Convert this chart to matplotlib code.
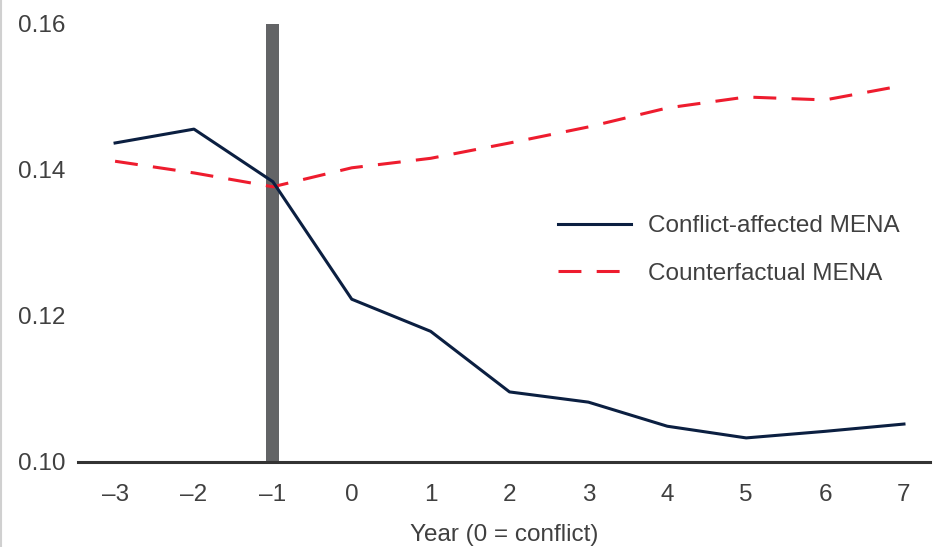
import matplotlib
matplotlib.use("Agg")
import matplotlib.pyplot as plt

plt.rcParams["font.family"] = ["Liberation Sans", "DejaVu Sans"]

years = [-3, -2, -1, 0, 1, 2, 3, 4, 5, 6, 7]
year_labels = ["\u20133", "\u20132", "\u20131", "0", "1", "2", "3", "4", "5", "6", "7"]
conflict = [0.1437, 0.1456, 0.1384, 0.1223, 0.1179, 0.1096, 0.1082, 0.1049, 0.1033, 0.1042, 0.1052]
counterfactual = [0.1412, 0.1396, 0.1377, 0.1403, 0.1416, 0.1437, 0.1459, 0.1485, 0.1500, 0.1496, 0.1516]
conflict_year = -1
y_ticks = [0.10, 0.12, 0.14, 0.16]

text_col = "#404040"
fs = 17.5

fig = plt.figure(figsize=(9.34, 5.47), dpi=100)
ax = fig.add_axes([78 / 934, 1 - 462 / 547, 852 / 934, 438 / 547])

# vertical marker for the conflict year
ax.bar([conflict_year], [y_ticks[-1] - y_ticks[0]], bottom=y_ticks[0], width=0.165,
       color="#636466", zorder=1)
ax.plot(years, conflict, color="#0b1f41", lw=2.2, label="Conflict-affected MENA", zorder=3)
ax.plot(years, counterfactual, color="#ee1c2e", lw=2.2, linestyle=(0, (7.5, 5.0)),
        label="Counterfactual MENA", zorder=2)

ax.set_xlim(-3.47, 7.33)
ax.set_ylim(0.10, 0.16)
ax.set_xticks(years)
ax.set_xticklabels(year_labels)
ax.set_yticks(y_ticks)
ax.set_yticklabels([f"{v:.2f}" for v in y_ticks])
ax.tick_params(axis="both", length=0, labelsize=fs, colors=text_col)
ax.tick_params(axis="x", pad=16)
ax.tick_params(axis="y", pad=9)
for s in ["top", "right", "left"]:
    ax.spines[s].set_visible(False)
ax.spines["bottom"].set_color("#333333")
ax.spines["bottom"].set_linewidth(2.2)
ax.set_xlabel("Year (0 = conflict)", fontsize=fs, color=text_col, labelpad=13)

leg = ax.legend(loc="upper left", bbox_to_anchor=(0.563, 0.563), frameon=False,
                fontsize=fs, handlelength=3.0, handletextpad=0.7, labelspacing=1.05,
                borderpad=0, borderaxespad=0)
for t in leg.get_texts():
    t.set_color(text_col)

fig.add_artist(plt.Line2D([0.001, 0.001], [0, 1], color="#d0d0d0", lw=1.5))

fig.savefig("out.png", dpi=100)
